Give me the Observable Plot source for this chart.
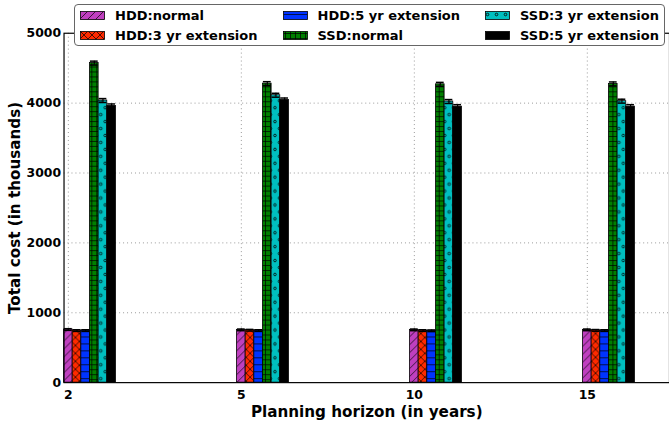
<!DOCTYPE html>
<html>
<head>
<meta charset="utf-8">
<script src="https://cdn.jsdelivr.net/npm/d3@7"></script>
<script src="https://cdn.jsdelivr.net/npm/@observablehq/plot@0.6"></script>
<style>
  html, body { margin: 0; padding: 0; background: #fff; overflow: hidden; }
  #wrap { position: relative; width: 669px; height: 422px; overflow: hidden; font-family: "DejaVu Sans", sans-serif; }
  #legend {
    position: absolute; left: 74px; top: 4px;
    background: #fff; border: 1px solid #666; border-radius: 4px;
    padding: 2px 5px 2px 5px;
    display: grid; grid-template-columns: auto auto auto; column-gap: 25px; row-gap: 4px;
    font-weight: bold; font-size: 13px; color: #000;
  }
  .item { display: flex; align-items: center; gap: 10px; height: 16px; white-space: nowrap; }
  .item svg { display: block; }
</style>
</head>
<body>
<div id="wrap"></div>
<script>
// ---- data ----
const horizons = ["2", "5", "10", "15"];
const seriesNames = ["HDD:normal", "HDD:3 yr extension", "HDD:5 yr extension", "SSD:normal", "SSD:3 yr extension", "SSD:5 yr extension"];
const hddNormal = [760, 755, 755, 755];
const hdd3yr    = [745, 750, 745, 748];
const hdd5yr    = [745, 745, 742, 745];
const ssdNormal = [4573, 4279, 4269, 4275];
const ssd3yr    = [4037, 4113, 4023, 4028];
const ssd5yr    = [3960, 4045, 3950, 3950];
const hddNormalErr = [12, 12, 12, 12];
const hdd3yrErr    = [12, 12, 12, 12];
const hdd5yrErr    = [12, 12, 12, 12];
const ssdNormalErr = [28, 28, 28, 28];
const ssd3yrErr    = [28, 28, 28, 28];
const ssd5yrErr    = [28, 28, 28, 28];
const yTicks = [0, 1000, 2000, 3000, 4000, 5000];

const allValues = [hddNormal, hdd3yr, hdd5yr, ssdNormal, ssd3yr, ssd5yr];
const allErrors = [hddNormalErr, hdd3yrErr, hdd5yrErr, ssdNormalErr, ssd3yrErr, ssd5yrErr];
const fills = ["#bf3fbf", "#ff2a00", "#0033ff", "#007f00", "#00bfbf", "#000000"];

const barW = 0.05;
const rows = [];
allValues.forEach((vals, s) => vals.forEach((v, g) => rows.push({s, g, value: v, err: allErrors[s][g]})));
const tickPos = horizons.map((h, g) => g + barW / 2);

// ---- pattern defs ----
function makeDefs() {
  const ns = "http://www.w3.org/2000/svg";
  const svg = document.createElementNS(ns, "svg");
  svg.setAttribute("width", 0); svg.setAttribute("height", 0);
  svg.style.position = "absolute";
  svg.innerHTML = `<defs>
    <pattern id="pat0" patternUnits="userSpaceOnUse" width="8" height="8">
      <rect width="8" height="8" fill="${fills[0]}"/>
      <path d="M-2,2 L2,-2 M0,8 L8,0 M6,10 L10,6" stroke="#000" stroke-width="0.7"/>
    </pattern>
    <pattern id="pat1" patternUnits="userSpaceOnUse" width="8" height="8">
      <rect width="8" height="8" fill="${fills[1]}"/>
      <path d="M0,0 L8,8 M0,8 L8,0" stroke="#000" stroke-width="0.7"/>
    </pattern>
    <pattern id="pat2" patternUnits="userSpaceOnUse" width="7" height="7">
      <rect width="7" height="7" fill="${fills[2]}"/>
      <path d="M0,3.5 L7,3.5" stroke="#000" stroke-width="0.7"/>
    </pattern>
    <pattern id="pat3" patternUnits="userSpaceOnUse" width="5" height="5">
      <rect width="5" height="5" fill="${fills[3]}"/>
      <path d="M0,2.5 L5,2.5 M2.5,0 L2.5,5" stroke="#000" stroke-width="0.7"/>
    </pattern>
    <pattern id="pat4" patternUnits="userSpaceOnUse" width="9" height="14">
      <rect width="9" height="14" fill="${fills[4]}"/>
      <circle cx="2.5" cy="3.5" r="1.3" fill="none" stroke="#000" stroke-width="0.8"/>
      <circle cx="7" cy="10.5" r="1.3" fill="none" stroke="#000" stroke-width="0.8"/>
    </pattern>
    <pattern id="pat5" patternUnits="userSpaceOnUse" width="8" height="8">
      <rect width="8" height="8" fill="${fills[5]}"/>
    </pattern>
  </defs>`;
  return svg;
}

const wrap = document.getElementById("wrap");
wrap.appendChild(makeDefs());

const barMarks = seriesNames.map((name, s) =>
  Plot.rectY(rows.filter(d => d.s === s), {
    x1: d => d.g + d.s * barW,
    x2: d => d.g + (d.s + 1) * barW,
    y: "value",
    fill: `url(#pat${s})`,
    stroke: "#000",
    strokeWidth: 0.8
  })
);

const capHalf = barW * 0.45;
const center = d => d.g + (d.s + 0.5) * barW;

const chart = Plot.plot({
  width: 674,
  height: 422,
  marginLeft: 64,
  marginRight: 0,
  marginTop: 33,
  marginBottom: 37,
  x: {domain: [0, 3.5], axis: null},
  y: {domain: [0, 5000], axis: null},
  style: {fontFamily: "'DejaVu Sans', sans-serif", fontSize: "12.5px", fontWeight: "bold", color: "#000", background: "#fff", overflow: "visible"},
  marks: [
    Plot.gridY(yTicks.slice(1, -1), {stroke: "#999", strokeOpacity: 1, strokeDasharray: "1,3"}),
    Plot.gridX(tickPos, {stroke: "#999", strokeOpacity: 1, strokeDasharray: "1,3"}),
    ...barMarks,
    Plot.ruleX(rows, {x: center, y1: d => d.value - d.err, y2: d => d.value + d.err, stroke: "#000", strokeWidth: 1.2}),
    Plot.ruleY(rows, {y: d => d.value + d.err, x1: d => center(d) - capHalf, x2: d => center(d) + capHalf, stroke: "#000", strokeWidth: 1.5}),
    Plot.ruleY(rows, {y: d => d.value - d.err, x1: d => center(d) - capHalf, x2: d => center(d) + capHalf, stroke: "#000", strokeWidth: 1.5}),
    Plot.frame({stroke: "#000", strokeWidth: 1.2}),
    Plot.axisY(yTicks, {tickSize: 0, tickPadding: 3, tickFormat: d => String(d), label: null, fontSize: 12.5}),
    Plot.axisX(tickPos, {tickSize: 0, tickPadding: 8, tickFormat: d => horizons[Math.round(d)], label: null, fontSize: 12.5}),
    Plot.text(["Total cost (in thousands)"], {frameAnchor: "left", dx: -49, rotate: -90, textAnchor: "middle", lineAnchor: "middle", fontSize: 15.3, fontWeight: "bold"}),
    Plot.text(["Planning horizon (in years)"], {frameAnchor: "bottom", dy: 30, textAnchor: "middle", lineAnchor: "middle", fontSize: 15.3, fontWeight: "bold"})
  ]
});
chart.style.display = "block";
wrap.appendChild(chart);

// ---- legend (column-major order like matplotlib ncol=3) ----
const legend = document.createElement("div");
legend.id = "legend";
const order = [0, 2, 4, 1, 3, 5];
order.forEach(s => {
  const item = document.createElement("div");
  item.className = "item";
  item.innerHTML = `<svg width="25" height="9"><rect x="0.5" y="0.5" width="24" height="8" fill="url(#pat${s})" stroke="#000" stroke-width="0.8"/></svg><span>${seriesNames[s]}</span>`;
  legend.appendChild(item);
});
wrap.appendChild(legend);
</script>
</body>
</html>
